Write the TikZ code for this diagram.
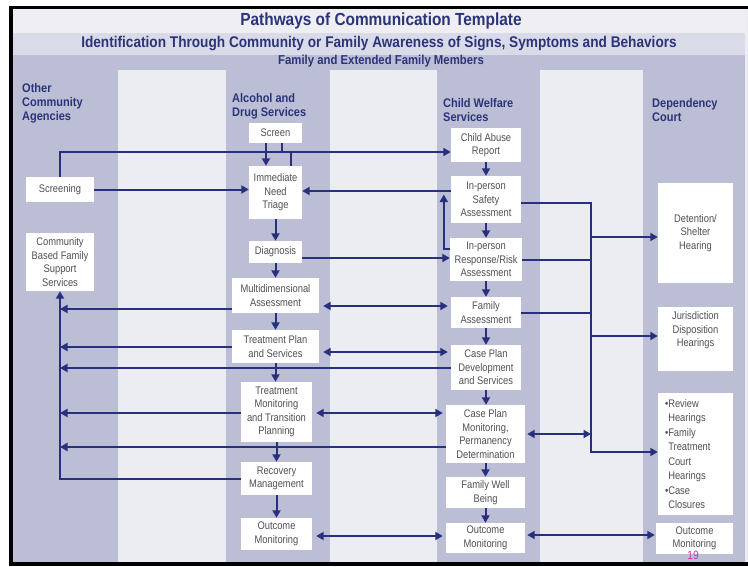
\documentclass[tikz,border=0pt]{standalone}
\usepackage{fontspec}
\setmainfont{Liberation Sans}[FakeStretch=0.85]
\newfontfamily\hdfont{Liberation Sans}[FakeStretch=0.88]
\usetikzlibrary{arrows.meta,calc}
\definecolor{navy}{HTML}{2B3478}
\definecolor{linec}{HTML}{28307E}
\definecolor{mid}{HTML}{BCBED6}
\definecolor{lite}{HTML}{ECECF3}
\definecolor{bandA}{HTML}{EEEEF3}
\definecolor{bandB}{HTML}{DADBE8}
\definecolor{boxtxt}{HTML}{505056}
\definecolor{pagec}{HTML}{CC33AA}
\tikzset{
  box/.style={fill=white, draw=none, inner sep=1pt, align=center, text=boxtxt,
    font=\fontsize{11}{13.5}\selectfont},
  hdr/.style={inner sep=0pt, align=left, text=navy, anchor=west,
    font=\hdfont\bfseries\fontsize{12.5}{14}\selectfont},
  ln/.style={draw=linec, line width=2pt},
  arr/.style={ln, -{Triangle[length=7.5pt,width=8pt]}},
  darr/.style={ln, {Triangle[length=7.5pt,width=8pt]}-{Triangle[length=7.5pt,width=8pt]}}
}
\begin{document}
\begin{tikzpicture}[x=1pt,y=-1pt]
\useasboundingbox (0,0) rectangle (748,566);
\fill[white] (0,0) rectangle (748,566);
\fill[black] (9,6) rectangle (748,566);
\fill[mid] (13,9) rectangle (745,562);
\fill[lite] (745,9) rectangle (748,562);
\fill[bandA] (13,9) rectangle (745,33);
\fill[bandB] (13,33) rectangle (745,55);
\fill[lite] (118,70) rectangle (226,562);
\fill[lite] (330,70) rectangle (437,562);
\fill[lite] (540,70) rectangle (643,562);

% headings
\node[text=navy, font=\hdfont\bfseries\fontsize{17.5}{20}\selectfont] (title) at (381,21) {Pathways of Communication Template};
\node[text=navy, font=\hdfont\bfseries\fontsize{15.5}{17}\selectfont] (sub) at (379,44) {Identification Through Community or Family Awareness of Signs, Symptoms and Behaviors};
\node[text=navy, font=\hdfont\bfseries\fontsize{12.9}{14}\selectfont] (fam) at (381,61) {Family and Extended Family Members};
\node[hdr] (h1) at (22,103) {Other\\Community\\Agencies};
\node[hdr] (h2) at (232,106.5) {Alcohol and\\Drug Services};
\node[hdr] (h3) at (443,110) {Child Welfare\\Services};
\node[hdr] (h4) at (652,110) {Dependency\\Court};

% other community agencies
\node[box, minimum width=68pt, minimum height=25pt] (screening) at (60,189.5) {Screening};
\node[box, minimum width=68pt, minimum height=58pt] (community) at (60,262) {Community\\Based Family\\Support\\Services};

% alcohol and drug services
\node[box, minimum width=53pt, minimum height=20pt] (screen) at (275.5,133) {Screen};
\node[box, minimum width=53pt, minimum height=53pt] (triage) at (275.5,192.5) {Immediate\\Need\\Triage};
\node[box, minimum width=53pt, minimum height=22pt] (diagnosis) at (275.5,252) {Diagnosis};
\node[box, minimum width=87pt, minimum height=35pt] (multi) at (275.5,295.5) {Multidimensional\\Assessment};
\node[box, minimum width=87pt, minimum height=33pt] (tplan) at (275.5,346.5) {Treatment Plan\\and Services};
\node[box, minimum width=71pt, minimum height=60pt] (tmon) at (276.5,412) {Treatment\\Monitoring\\and Transition\\Planning};
\node[box, minimum width=71pt, minimum height=33pt] (recovery) at (276.5,478.5) {Recovery\\Management};
\node[box, minimum width=71pt, minimum height=32pt] (outA) at (276.5,534) {Outcome\\Monitoring};

% child welfare services
\node[box, minimum width=70pt, minimum height=34pt] (car) at (486,145) {Child Abuse\\Report};
\node[box, minimum width=70pt, minimum height=47pt] (safety) at (486,199.5) {In-person\\Safety\\Assessment};
\node[box, minimum width=72pt, minimum height=43pt] (risk) at (486,259.5) {In-person\\Response/Risk\\Assessment};
\node[box, minimum width=70pt, minimum height=31pt] (famA) at (486,312.5) {Family\\Assessment};
\node[box, minimum width=70pt, minimum height=45pt] (cpd) at (486,367.5) {Case Plan\\Development\\and Services};
\node[box, minimum width=79pt, minimum height=58pt] (cpm) at (485.5,434) {Case Plan\\Monitoring,\\Permanency\\Determination};
\node[box, minimum width=79pt, minimum height=31pt] (fwb) at (485.5,492.5) {Family Well\\Being};
\node[box, minimum width=79pt, minimum height=30pt] (outC) at (485.5,538) {Outcome\\Monitoring};

% dependency court
\node[box, minimum width=75pt, minimum height=100pt] (detention) at (695.5,233) {Detention/\\Shelter\\Hearing};
\node[box, minimum width=75pt, minimum height=64pt] (jurisdiction) at (695.5,339) {Jurisdiction\\Disposition\\Hearings\\[6pt]};
\node[box, minimum width=75pt, minimum height=122pt, text width=65pt, align=left,
  font=\fontsize{11}{14.5}\selectfont] (review) at (695.5,454)
  {\hspace*{2pt}•Review\\\hspace*{2pt}\phantom{•}Hearings\\\hspace*{2pt}•Family\\\hspace*{2pt}\phantom{•}Treatment\\\hspace*{2pt}\phantom{•}Court\\\hspace*{2pt}\phantom{•}Hearings\\\hspace*{2pt}•Case\\\hspace*{2pt}\phantom{•}Closures};
\node[box, minimum width=77pt, minimum height=31pt] (outD) at (694.5,538.5) {Outcome\\Monitoring};
\node[text=pagec, font=\fontsize{12}{13}\selectfont, inner sep=0pt] (pg) at (693,555) {19};

% coordinates
\coordinate (hl) at (60,152);
\coordinate (busbot) at (591,452);

% top connectors
\draw[arr] (screening.north) |- (car.west |- hl);
\draw[arr] (screening.east) -- (screening.east -| triage.west);
\draw[arr] ([xshift=-9.5pt]screen.south) -- ([xshift=-9.5pt]screen.south |- triage.north);
\draw[ln] ([xshift=6.5pt]screen.south) -- ([xshift=6.5pt]screen.south |- hl);
\draw[ln] ([xshift=15.5pt]triage.north) -- ([xshift=15.5pt]triage.north |- hl);
\draw[arr] ([yshift=8.5pt]safety.west) -- ([yshift=8.5pt]safety.west -| triage.east);
\draw[arr] ([yshift=10.5pt]risk.west) -| ($(safety.west)+(-7,-5)$);
\draw[arr] ([yshift=-6pt]diagnosis.east) -- ([yshift=-6pt]diagnosis.east -| risk.west);

% vertical flows
\draw[arr] (triage.south) -- (triage.south |- diagnosis.north);
\draw[arr] (diagnosis.south) -- (diagnosis.south |- multi.north);
\draw[arr] (multi.south) -- (multi.south |- tplan.north);
\draw[arr] (tplan.south) -- (tplan.south |- tmon.north);
\draw[arr] (tmon.south) -- (tmon.south |- recovery.north);
\draw[arr] (recovery.south) -- (recovery.south |- outA.north);
\draw[arr] (car.south) -- (car.south |- safety.north);
\draw[arr] (safety.south) -- (safety.south |- risk.north);
\draw[arr] (risk.south) -- (risk.south |- famA.north);
\draw[arr] (famA.south) -- (famA.south |- cpd.north);
\draw[arr] (cpd.south) -- (cpd.south |- cpm.north);
\draw[arr] (cpm.south) -- (cpm.south |- fwb.north);
\draw[arr] (fwb.south) -- (fwb.south |- outC.north);

% two-way links between services
\draw[darr, shorten <=4pt, shorten >=3pt] ([yshift=-10.5pt]multi.east) -- ([yshift=-10.5pt]multi.east -| famA.west);
\draw[darr, shorten <=4pt, shorten >=3pt] ([yshift=-5.5pt]tplan.east) -- ([yshift=-5.5pt]tplan.east -| cpd.west);
\draw[darr, shorten <=4pt, shorten >=3pt] ([yshift=-1pt]tmon.east) -- ([yshift=-1pt]tmon.east -| cpm.west);
\draw[darr, shorten <=4pt, shorten >=3pt] ([yshift=-2pt]outA.east) -- ([yshift=-2pt]outA.east -| outC.west);

% links to community support
\draw[arr] ([yshift=-13.5pt]multi.west) -- ([yshift=-13.5pt]multi.west -| community.south);
\draw[arr] ([yshift=-0.5pt]tplan.west) -- ([yshift=-0.5pt]tplan.west -| community.south);
\draw[arr] ([yshift=-0.5pt]cpd.west) -- ([yshift=-0.5pt]cpd.west -| community.south);
\draw[arr] ([yshift=-1pt]tmon.west) -- ([yshift=-1pt]tmon.west -| community.south);
\draw[arr] ([yshift=-13pt]cpm.west) -- ([yshift=-13pt]cpm.west -| community.south);
\draw[arr] (recovery.west) -| (community.south);

% links to court
\draw[arr] ([yshift=-3.5pt]safety.east) -| (busbot) -- (busbot -| review.west);
\draw[ln] ([yshift=-0.5pt]risk.east) -- ([yshift=-0.5pt]risk.east -| busbot);
\draw[ln] ([yshift=-0.5pt]famA.east) -- ([yshift=-0.5pt]famA.east -| busbot);
\draw[arr] ([yshift=-4pt]busbot |- detention.west) -- ([yshift=-4pt]detention.west);
\draw[arr] ([yshift=3pt]busbot |- jurisdiction.west) -- ([yshift=3pt]jurisdiction.west);
\draw[darr, shorten <=2pt] (cpm.east) -- (cpm.east -| busbot);
\draw[darr, shorten <=2pt, shorten >=1pt] ([yshift=3pt]outC.east) -- ([yshift=3pt]outC.east -| outD.west);
\end{tikzpicture}
\end{document}
